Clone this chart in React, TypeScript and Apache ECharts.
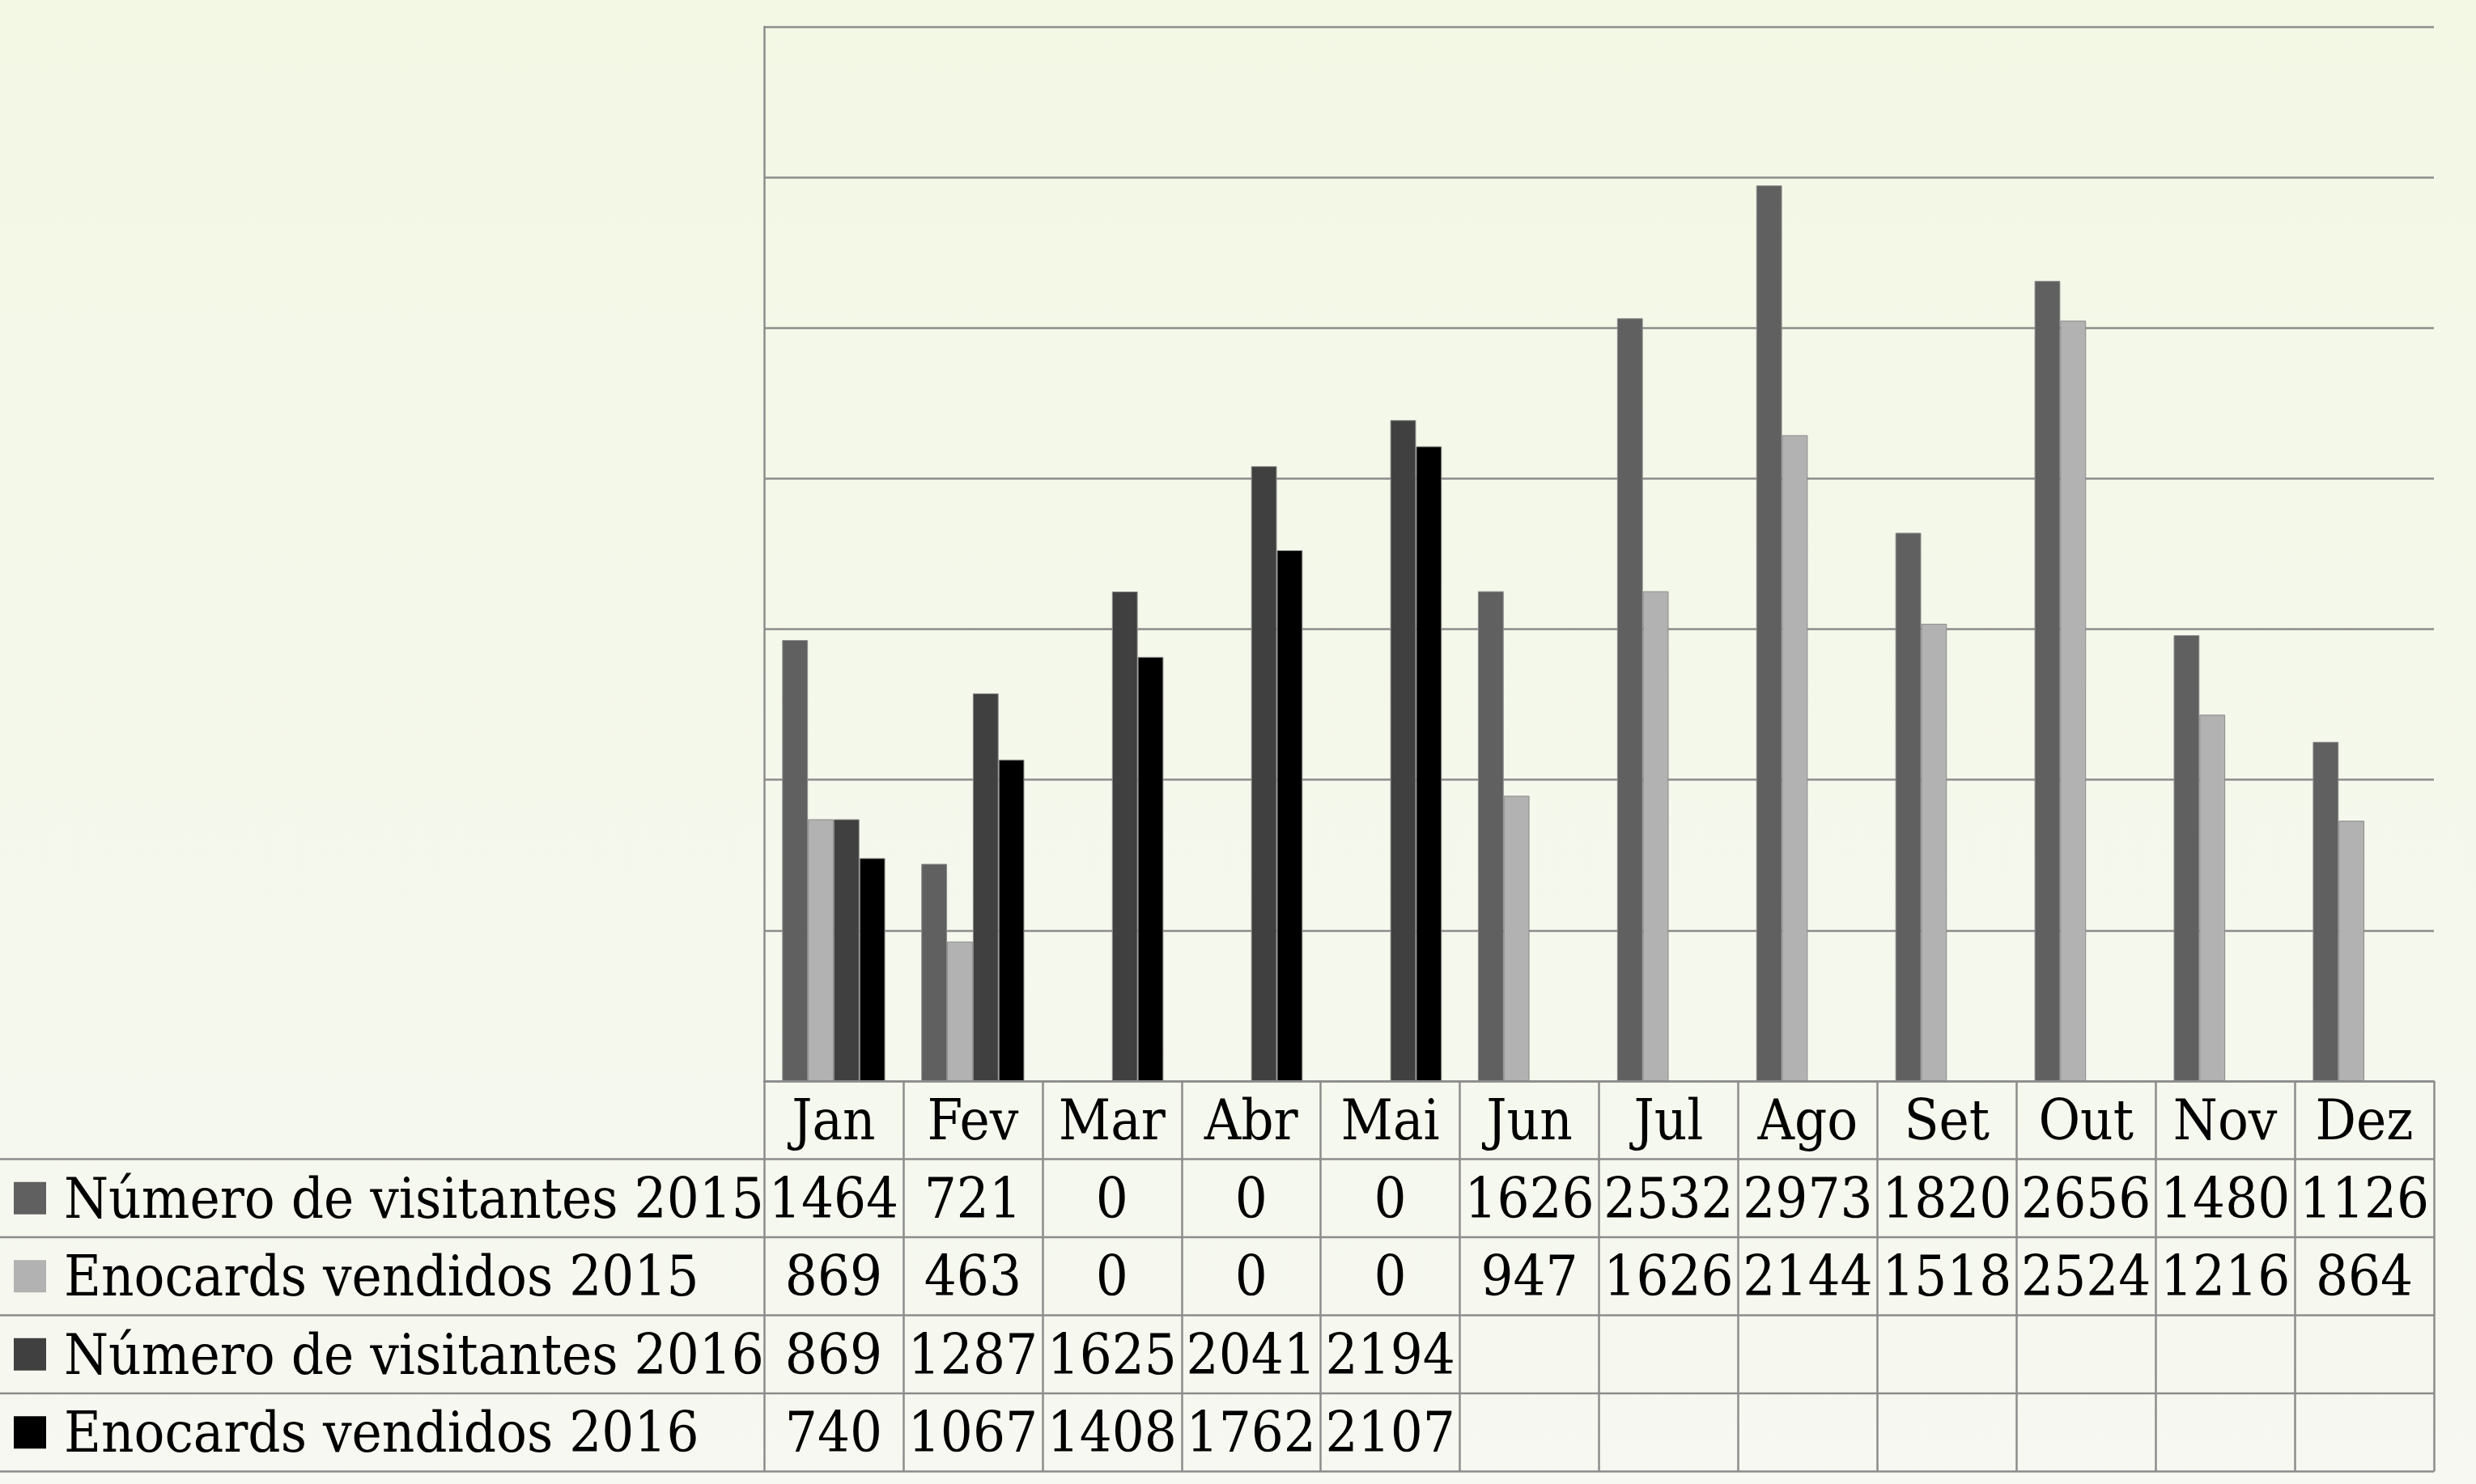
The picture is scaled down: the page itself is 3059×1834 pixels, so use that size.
import React, { useEffect, useRef } from "react";
import * as echarts from "echarts";

const months = ["Jan", "Fev", "Mar", "Abr", "Mai", "Jun", "Jul", "Ago", "Set", "Out", "Nov", "Dez"];
const seriesNames = [
  "Número de visitantes 2015",
  "Enocards vendidos 2015",
  "Número de visitantes 2016",
  "Enocards vendidos 2016",
];
const visitantes2015 = [1464, 721, 0, 0, 0, 1626, 2532, 2973, 1820, 2656, 1480, 1126];
const enocards2015 = [869, 463, 0, 0, 0, 947, 1626, 2144, 1518, 2524, 1216, 864];
const visitantes2016 = [869, 1287, 1625, 2041, 2194, null, null, null, null, null, null, null];
const enocards2016 = [740, 1067, 1408, 1762, 2107, null, null, null, null, null, null, null];
const seriesColors = ["#606060", "#b2b2b2", "#404040", "#000000"];

const W = 3059;
const H = 1834;
const FONT = "'DejaVu Serif Condensed', 'DejaVu Serif', serif";
const GRID_LEFT = 944;
const GRID_RIGHT_X = 3007;
const GRID_TOP = 33;
const BASE_Y = 1336;
const ROW_H = 96.5;
const LINE_COLOR = "#8c8c8c";

export default function App() {
  const ref = useRef<HTMLDivElement>(null);

  useEffect(() => {
    if (!ref.current) return;
    const chart = echarts.init(ref.current, null, { renderer: "svg", width: W, height: H });
    const allData = [visitantes2015, enocards2015, visitantes2016, enocards2016];

    const rowLines: any[] = [];
    for (let i = 1; i <= 5; i++) {
      const y = BASE_Y + i * ROW_H;
      rowLines.push({
        type: "line",
        shape: { x1: 0, y1: y, x2: GRID_RIGHT_X, y2: y },
        style: { stroke: LINE_COLOR, lineWidth: 2.5 },
        silent: true,
      });
    }

    const option: any = {
      animation: false,
      backgroundColor: {
        type: "linear",
        x: 0,
        y: 0,
        x2: 0,
        y2: 1,
        colorStops: [
          { offset: 0, color: "#f3f8e5" },
          { offset: 1, color: "#f6f8f1" },
        ],
      },
      grid: {
        left: GRID_LEFT,
        right: W - GRID_RIGHT_X,
        top: GRID_TOP,
        bottom: H - BASE_Y,
        containLabel: false,
      },
      legend: {
        orient: "vertical",
        left: 17,
        top: BASE_Y + ROW_H,
        padding: 0,
        itemGap: 0,
        itemWidth: 40,
        itemHeight: 40,
        icon: "rect",
        selectedMode: false,
        data: seriesNames,
        itemStyle: { borderWidth: 0 },
        textStyle: {
          fontFamily: FONT,
          fontSize: 70,
          color: "#000",
          lineHeight: ROW_H,
          padding: [0, 0, 0, 17],
        },
      },
      xAxis: {
        type: "category",
        data: months,
        axisLine: { show: true, lineStyle: { color: LINE_COLOR, width: 2.5 } },
        axisTick: {
          show: true,
          interval: 0,
          inside: false,
          length: ROW_H * 5,
          lineStyle: { color: LINE_COLOR, width: 2.5 },
        },
        axisLabel: {
          interval: 0,
          margin: 0,
          fontFamily: FONT,
          fontSize: 70,
          color: "#000",
          lineHeight: ROW_H,
          formatter: (value: string, idx: number) => {
            const lines = [value];
            allData.forEach((arr) => {
              const v = arr[idx];
              lines.push(v === null || v === undefined ? " " : String(v));
            });
            return lines.join("\n");
          },
        },
      },
      yAxis: {
        type: "value",
        min: 0,
        max: 3500,
        interval: 500,
        axisLine: { show: true, lineStyle: { color: LINE_COLOR, width: 2.5 } },
        axisTick: { show: false },
        axisLabel: { show: false },
        splitLine: { show: true, lineStyle: { color: LINE_COLOR, width: 2.5 } },
      },
      series: seriesNames.map((name, i) => ({
        name,
        type: "bar",
        data: allData[i],
        barGap: "0%",
        barCategoryGap: "26%",
        itemStyle: {
          color: seriesColors[i],
          borderColor: "#8a8a8a",
          borderWidth: 1,
        },
      })),
      graphic: rowLines,
    };

    chart.setOption(option);
    return () => chart.dispose();
  }, []);

  return (
    <div
      ref={ref}
      style={{ position: "fixed", left: 0, top: 0, width: W, height: H }}
    />
  );
}
